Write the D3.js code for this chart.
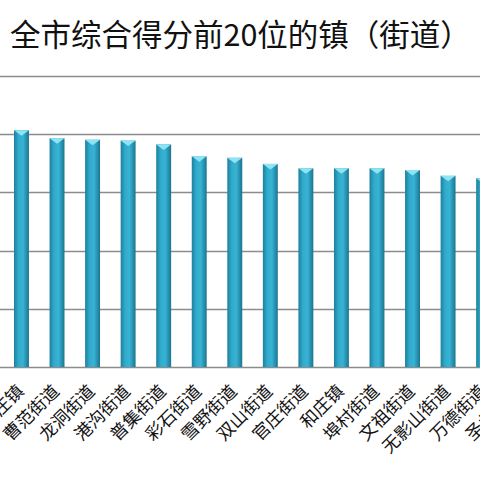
<!DOCTYPE html>
<html lang="zh">
<head>
<meta charset="UTF-8">
<title>全市综合得分前20位的镇（街道）</title>
<script src="https://d3js.org/d3.v7.min.js"></script>
<style>
    body { margin: 0; background: #fff; }
    svg { display: block; }
    .grid line { stroke: #8c8c8c; stroke-width: 1.3px; }
    .lbl { font-family: "Noto Sans CJK SC", sans-serif; font-size: 17.5px; fill: #111; }
    .title { font-family: "Noto Sans CJK SC", sans-serif; font-size: 30.5px; fill: #111; }
</style>
</head>
<body>
<svg id="chart" width="480" height="480"></svg>
<script>
    // towns (cropped view: left axis and the tail of the list are outside the picture)
    let towns = ["垛庄镇", "曹范街道", "龙洞街道", "港沟街道", "普集街道", "彩石街道", "雪野街道",
        "双山街道", "官庄街道", "和庄镇", "埠村街道", "文祖街道", "无影山街道", "万德街道", "圣井街道"];
    let scores = [81.4, 78.6, 78.1, 77.8, 76.5, 72.4, 71.9, 69.8, 68.3, 68.3, 68.3, 67.7, 65.7, 64.9, 64.2];
    let gridTicks = [0, 20, 40, 60, 80, 100];

    let svg = d3.select("#chart");

    let step = 35.55;
    let x = d3.scaleBand()
        .domain(towns)
        .range([3.7, 3.7 + step * towns.length])
        .paddingInner(0.58)
        .paddingOuter(0.29);

    let y = d3.scaleLinear()
        .domain([0, 100])
        .range([367, 76]);

    // gradient for the cylinder look
    let defs = svg.append("defs");
    let grad = defs.append("linearGradient").attr("id", "barGrad")
        .attr("x1", "0%").attr("x2", "100%").attr("y1", "0%").attr("y2", "0%");
    grad.append("stop").attr("offset", "0%").attr("stop-color", "#1d7f9c");
    grad.append("stop").attr("offset", "30%").attr("stop-color", "#31abcc");
    grad.append("stop").attr("offset", "60%").attr("stop-color", "#38b3d4");
    grad.append("stop").attr("offset", "100%").attr("stop-color", "#1a7590");

    svg.append("text")
        .attr("class", "title")
        .attr("x", 10)
        .attr("y", 46)
        .text("全市综合得分前20位的镇（街道）");

    // horizontal grid
    svg.append("g").attr("class", "grid")
        .selectAll("line")
        .data(gridTicks)
        .join("line")
        .attr("x1", 0)
        .attr("x2", 480)
        .attr("y1", d => Math.round(y(d)) + 0.5)
        .attr("y2", d => Math.round(y(d)) + 0.5);

    let bars = svg.append("g")
        .selectAll("g")
        .data(towns.map((t, i) => ({town: t, score: scores[i]})))
        .join("g");

    bars.append("rect")
        .attr("x", d => x(d.town))
        .attr("y", d => y(d.score))
        .attr("width", x.bandwidth())
        .attr("height", d => y(0) - y(d.score))
        .attr("fill", "url(#barGrad)");

    // bevel on top of each bar
    bars.append("path")
        .attr("d", d => {
            let x0 = x(d.town), x1 = x0 + x.bandwidth(), yt = y(d.score);
            let xm = x0 + x.bandwidth() / 2;
            return `M${x0},${yt}L${x1},${yt}L${xm},${yt + 5.5}Z`;
        })
        .attr("fill", "#8fe3f3");

    // rotated category labels
    svg.append("g")
        .selectAll("text")
        .data(towns)
        .join("text")
        .attr("class", "lbl")
        .attr("text-anchor", "end")
        .attr("transform", d => `translate(${x(d) + x.bandwidth() / 2 - 1},${388}) rotate(-45)`)
        .attr("dy", "0.35em")
        .text(d => d);
</script>
</body>
</html>
